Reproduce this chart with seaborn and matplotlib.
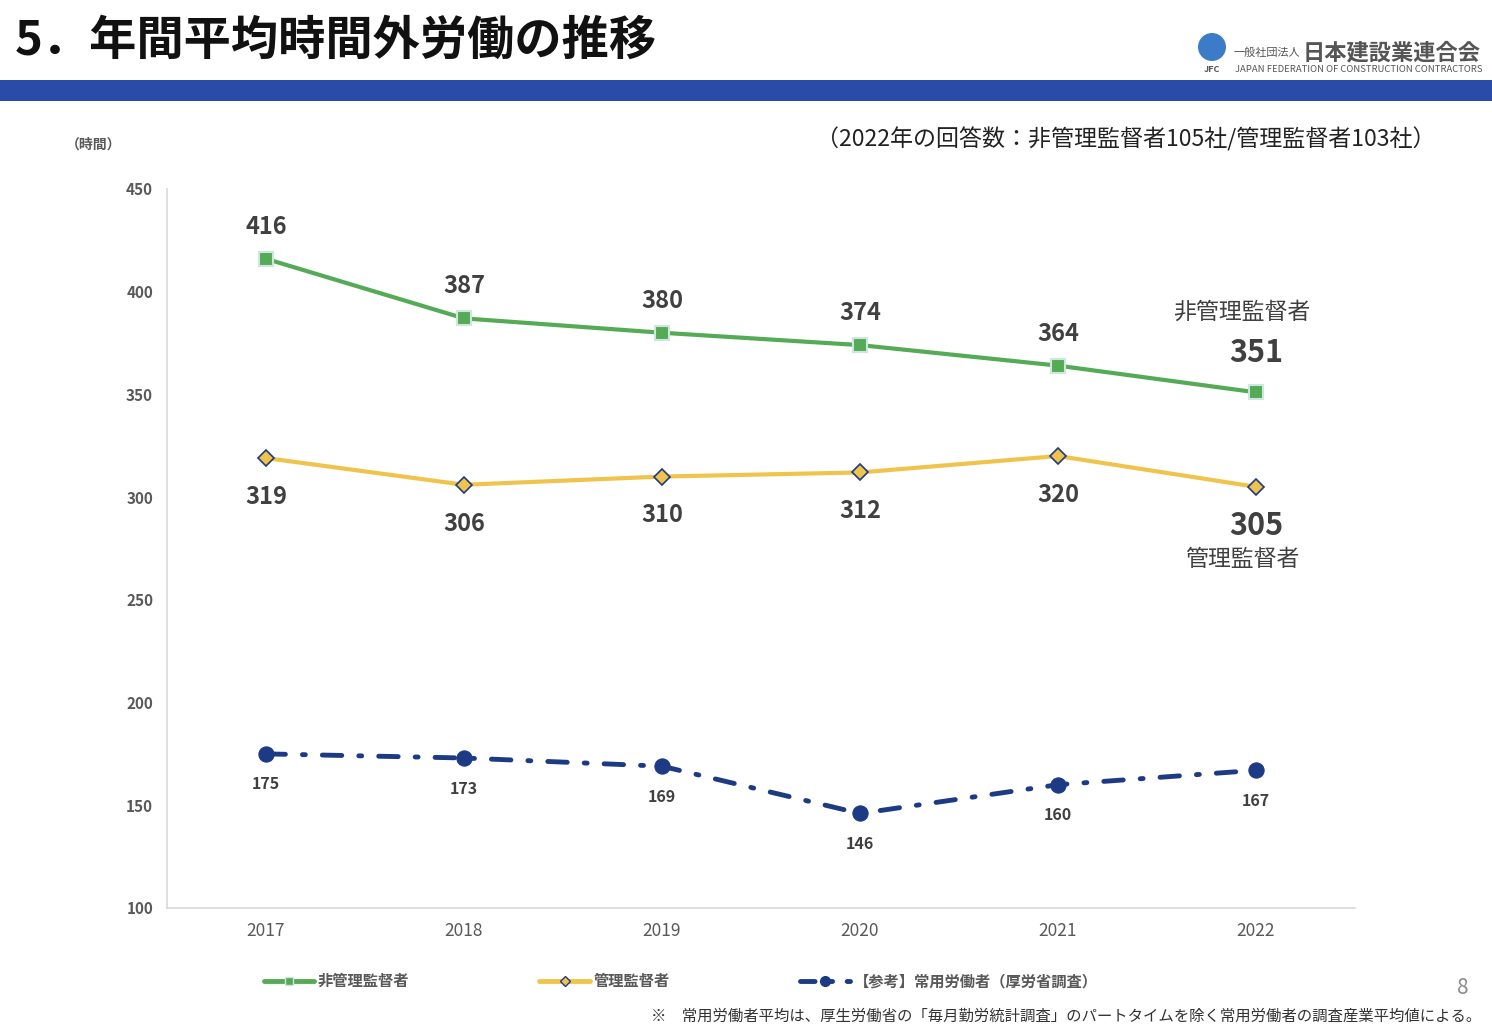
import numpy as np
import matplotlib
matplotlib.use("Agg")
import matplotlib.pyplot as plt
from matplotlib.lines import Line2D
from matplotlib.patches import Rectangle, Ellipse
import pandas as pd
import seaborn as sns

sns.set_theme(style="white")
plt.rcParams["font.family"] = ["Noto Sans CJK JP", "DejaVu Sans"]

YEARS = ["2017", "2018", "2019", "2020", "2021", "2022"]
NON_MGMT = [416, 387, 380, 374, 364, 351]
MGMT = [319, 306, 310, 312, 320, 305]
REGULAR = [175, 173, 169, 146, 160, 167]
Y_TICKS = [100, 150, 200, 250, 300, 350, 400, 450]

GREEN = "#55AB55"
YELLOW = "#F0C44C"
NAVY = "#1D3A85"
BAND = "#2B4BA8"
TXT = "#404040"

df = pd.DataFrame({"year": YEARS, "non_mgmt": NON_MGMT, "mgmt": MGMT, "regular": REGULAR})

fig = plt.figure(figsize=(14.92, 10.32), dpi=100)
ax = fig.add_axes([0.1119, 0.1202, 0.7963, 0.6967])

sns.lineplot(data=df, x="year", y="non_mgmt", ax=ax, color=GREEN, lw=3,
             marker="s", markersize=10, markerfacecolor=GREEN,
             markeredgecolor="#CFE6E0", markeredgewidth=1.5, sort=False)
sns.lineplot(data=df, x="year", y="mgmt", ax=ax, color=YELLOW, lw=3,
             marker="D", markersize=8, markerfacecolor=YELLOW,
             markeredgecolor=NAVY, markeredgewidth=1.2, sort=False)
sns.lineplot(data=df, x="year", y="regular", ax=ax, color=NAVY, lw=3.5,
             marker="o", markersize=11, markerfacecolor=NAVY,
             markeredgecolor=NAVY, sort=False)
ax.lines[-1].set_dashes([4, 3.5, 0.6, 3.5])
ax.lines[-1].set_dash_capstyle("round")

ax.set_xlim(-0.5, len(YEARS) - 0.5)
ax.set_ylim(100, 450)
ax.set_yticks(Y_TICKS)
ax.set_yticklabels([str(t) for t in Y_TICKS], fontsize=11, fontweight="bold", color="#595959")
ax.tick_params(axis="x", labelsize=12.5, colors="#595959", pad=4)
ax.tick_params(axis="y", pad=10, length=0)
ax.set_xlabel("")
ax.set_ylabel("")
for s in ["top", "right"]:
    ax.spines[s].set_visible(False)
for s in ["left", "bottom"]:
    ax.spines[s].set_color("#D9D9D9")
    ax.spines[s].set_linewidth(1.2)

n = len(YEARS)
for i, v in enumerate(NON_MGMT):
    big = i == n - 1
    ax.annotate(str(v), (i, v), xytext=(0, 28 if big else 23), textcoords="offset points",
                ha="center", va="center", fontsize=22 if big else 17,
                fontweight="bold", color=TXT)
for i, v in enumerate(MGMT):
    big = i == n - 1
    ax.annotate(str(v), (i, v), xytext=(0, -28), textcoords="offset points",
                ha="center", va="center", fontsize=22 if big else 17,
                fontweight="bold", color=TXT)
for i, v in enumerate(REGULAR):
    ax.annotate(str(v), (i, v), xytext=(0, -22), textcoords="offset points",
                ha="center", va="center", fontsize=11.5, fontweight="bold", color=TXT)

ax.annotate("非管理監督者", (n - 1, NON_MGMT[-1]), xytext=(-10, 58), textcoords="offset points",
            ha="center", va="center", fontsize=16.5, color=TXT)
ax.annotate("管理監督者", (n - 1, MGMT[-1]), xytext=(-10, -52), textcoords="offset points",
            ha="center", va="center", fontsize=16.5, color=TXT)

# header
fig.text(0.01, 0.960, "5．年間平均時間外労働の推移", fontsize=34, fontweight="bold",
         color="#111111", va="center", ha="left")
fig.add_artist(Rectangle((0, 1 - 101 / 1032), 1, 21 / 1032, transform=fig.transFigure,
                         facecolor=BAND, edgecolor="none"))
fig.add_artist(Ellipse((1212 / 1492, 1 - 47 / 1032), 28 / 1492, 28 / 1032,
                       transform=fig.transFigure, facecolor="#3B7BC8", edgecolor="none"))
fig.text(1212 / 1492, 1 - 70 / 1032, "JFC", fontsize=6.5, fontweight="bold", color="#555555",
         ha="center", va="center")
fig.text(1234 / 1492, 1 - 53 / 1032, "一般社団法人", fontsize=8, color="#555555", va="center")
fig.text(1303 / 1492, 1 - 53 / 1032, "日本建設業連合会", fontsize=16, fontweight="bold",
         color="#555555", va="center")
fig.text(1235 / 1492, 1 - 70 / 1032, "JAPAN FEDERATION OF CONSTRUCTION CONTRACTORS",
         fontsize=6.8, color="#555555", va="center")

fig.text(1436 / 1492, 1 - 139 / 1032, "（2022年の回答数：非管理監督者105社/管理監督者103社）",
         fontsize=16.6, color="#222222", ha="right", va="center")
fig.text(94 / 1492, 1 - 145 / 1032, "（時間）", fontsize=10, fontweight="bold",
         color="#595959", ha="center", va="center")

handles = [
    Line2D([], [], color=GREEN, lw=3.5, marker="s", markersize=6,
           markerfacecolor=GREEN, markeredgecolor="#CFE6E0"),
    Line2D([], [], color=YELLOW, lw=3.5, marker="D", markersize=5,
           markerfacecolor=YELLOW, markeredgecolor=NAVY),
    Line2D([], [], color=NAVY, lw=3.5, marker="o", markersize=7,
           dashes=[3, 3, 0.6, 3], dash_capstyle="round"),
]
labels = ["非管理監督者", "管理監督者", "【参考】常用労働者（厚労省調査）"]
leg = fig.legend(handles, labels, loc="center left", bbox_to_anchor=(250 / 1492, 1 - 981 / 1032),
                 ncol=3, frameon=False, handlelength=3.3, handletextpad=0.25,
                 columnspacing=8.5, prop={"size": 11, "weight": "bold"})
for t in leg.get_texts():
    t.set_color("#595959")

fig.text(1463 / 1492, 1 - 988 / 1032, "8", fontsize=15, color="#8C8C8C", ha="center", va="center")
fig.text(1481 / 1492, 1 - 1016 / 1032,
         "※　常用労働者平均は、厚生労働省の「毎月勤労統計調査」のパートタイムを除く常用労働者の調査産業平均値による。",
         fontsize=11.1, color="#333333", ha="right", va="center")

fig.savefig("out.png", dpi=100, facecolor="white")
